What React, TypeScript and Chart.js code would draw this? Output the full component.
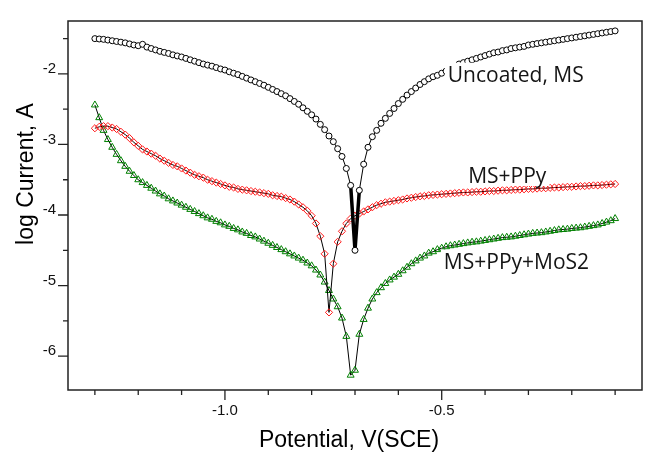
import { useEffect, useRef } from 'react';
import { Chart, registerables } from 'chart.js';

Chart.register(...registerables);

// Potential, V(SCE)
const potential = [
  -1.30, -1.29, -1.28, -1.27, -1.26, -1.25, -1.24, -1.23, -1.22, -1.21,
  -1.20, -1.19, -1.18, -1.17, -1.16, -1.15, -1.14, -1.13, -1.12, -1.11,
  -1.10, -1.09, -1.08, -1.07, -1.06, -1.05, -1.04, -1.03, -1.02, -1.01,
  -1.00, -0.99, -0.98, -0.97, -0.96, -0.95, -0.94, -0.93, -0.92, -0.91,
  -0.90, -0.89, -0.88, -0.87, -0.86, -0.85, -0.84, -0.83, -0.82, -0.81,
  -0.80, -0.79, -0.78, -0.77, -0.76, -0.75, -0.74, -0.73, -0.72, -0.71,
  -0.70, -0.69, -0.68, -0.67, -0.66, -0.65, -0.64, -0.63, -0.62, -0.61,
  -0.60, -0.59, -0.58, -0.57, -0.56, -0.55, -0.54, -0.53, -0.52, -0.51,
  -0.50, -0.49, -0.48, -0.47, -0.46, -0.45, -0.44, -0.43, -0.42, -0.41,
  -0.40, -0.39, -0.38, -0.37, -0.36, -0.35, -0.34, -0.33, -0.32, -0.31,
  -0.30, -0.29, -0.28, -0.27, -0.26, -0.25, -0.24, -0.23, -0.22, -0.21,
  -0.20, -0.19, -0.18, -0.17, -0.16, -0.15, -0.14, -0.13, -0.12, -0.11,
  -0.10,
];

// log Current, A
const uncoatedMS = [
  -1.50, -1.505, -1.51, -1.52, -1.53, -1.54, -1.55, -1.56, -1.575, -1.59,
  -1.60, -1.58, -1.62, -1.64, -1.66, -1.68, -1.695, -1.71, -1.73, -1.745,
  -1.76, -1.78, -1.80, -1.82, -1.84, -1.86, -1.875, -1.89, -1.91, -1.93,
  -1.945, -1.97, -1.99, -2.01, -2.035, -2.06, -2.085, -2.11, -2.135, -2.16,
  -2.19, -2.22, -2.25, -2.28, -2.31, -2.35, -2.39, -2.43, -2.48, -2.53,
  -2.58, -2.64, -2.715, -2.79, -2.88, -2.96, -3.06, -3.17, -3.34, -3.58,
  -4.50, -3.65, -3.28, -3.04, -2.89, -2.80, -2.70, -2.63, -2.56, -2.49,
  -2.42, -2.36, -2.30, -2.25, -2.20, -2.15, -2.11, -2.07, -2.04, -2.02,
  -1.99, -1.96, -1.93, -1.90, -1.86, -1.84, -1.82, -1.80, -1.78, -1.76,
  -1.74, -1.72, -1.70, -1.69, -1.67, -1.66, -1.64, -1.63, -1.62, -1.61,
  -1.59, -1.58, -1.57, -1.56, -1.55, -1.54, -1.53, -1.52, -1.51, -1.50,
  -1.49, -1.48, -1.47, -1.46, -1.45, -1.44, -1.43, -1.42, -1.41, -1.40,
  -1.39,
];

const msPPy = [
  -2.77, -2.75, -2.74, -2.74, -2.76, -2.78, -2.82, -2.86, -2.91, -2.97,
  -3.02, -3.07, -3.10, -3.13, -3.16, -3.20, -3.23, -3.26, -3.29, -3.31,
  -3.34, -3.37, -3.40, -3.43, -3.45, -3.47, -3.50, -3.52, -3.54, -3.56,
  -3.58, -3.60, -3.61, -3.63, -3.64, -3.65, -3.66, -3.67, -3.68, -3.69,
  -3.70, -3.72, -3.73, -3.74, -3.76, -3.78, -3.81, -3.85, -3.89, -3.94,
  -4.01, -4.12, -4.30, -4.55, -5.38, -4.69, -4.38, -4.23, -4.12, -4.05,
  -4.01, -3.98, -3.95, -3.92, -3.89, -3.86, -3.84, -3.82, -3.81, -3.80,
  -3.79, -3.78, -3.765, -3.755, -3.745, -3.735, -3.73, -3.72, -3.715, -3.71,
  -3.705, -3.70, -3.695, -3.69, -3.685, -3.68, -3.68, -3.675, -3.67, -3.67,
  -3.665, -3.66, -3.66, -3.655, -3.65, -3.65, -3.645, -3.64, -3.64, -3.635,
  -3.63, -3.63, -3.625, -3.62, -3.62, -3.615, -3.61, -3.61, -3.605, -3.60,
  -3.60, -3.595, -3.59, -3.59, -3.585, -3.58, -3.58, -3.575, -3.57, -3.565,
  -3.56,
];

const msPPyMoS2 = [
  -2.44, -2.62, -2.80, -2.93, -3.04, -3.14, -3.23, -3.31, -3.38, -3.44,
  -3.50, -3.54, -3.58, -3.62, -3.66, -3.70, -3.73, -3.77, -3.80, -3.83,
  -3.86, -3.89, -3.92, -3.95, -3.98, -4.01, -4.04, -4.06, -4.09, -4.11,
  -4.14, -4.16, -4.19, -4.21, -4.24, -4.26, -4.29, -4.31, -4.34, -4.37,
  -4.40, -4.43, -4.46, -4.49, -4.52, -4.55, -4.58, -4.61, -4.64, -4.68,
  -4.72, -4.78, -4.85, -4.95, -5.07, -5.19, -5.30, -5.46, -5.72, -6.27,
  -6.20, -5.69, -5.48, -5.32, -5.19, -5.10, -5.03, -4.97, -4.92, -4.88,
  -4.84, -4.79, -4.74, -4.69, -4.65, -4.61, -4.58, -4.54, -4.52, -4.49,
  -4.47, -4.45, -4.435, -4.425, -4.415, -4.405, -4.395, -4.385, -4.38, -4.37,
  -4.36, -4.35, -4.34, -4.33, -4.32, -4.315, -4.31, -4.30, -4.29, -4.28,
  -4.27, -4.26, -4.255, -4.25, -4.24, -4.23, -4.22, -4.21, -4.205, -4.20,
  -4.19, -4.185, -4.18, -4.17, -4.16, -4.15, -4.14, -4.12, -4.10, -4.08,
  -4.05,
];

const seriesNames = ['Uncoated, MS', 'MS+PPy', 'MS+PPy+MoS2'];

const xTicks = [-1.3, -1.2, -1.1, -1.0, -0.9, -0.8, -0.7, -0.6, -0.5, -0.4, -0.3, -0.2, -0.1];
const xLabeledTicks = [-1.0, -0.5];
const yTicks = [-6, -5, -4, -3, -2];
const yMinorTicks = [-5.5, -4.5, -3.5, -2.5, -1.5];
const xAxisTitle = 'Potential, V(SCE)';
const yAxisTitle = 'log Current, A';

// anchors (potential, log current) for the curve labels
const labelAnchors: [number, number][] = [
  [-0.486, -2.11],
  [-0.439, -3.546],
  [-0.495, -4.759],
];

const AXIS_FONT = '"Liberation Sans", Arial, sans-serif';
const NOTE_FONT = '"Open Sans", "Noto Sans", sans-serif';

const near = (a: number, b: number) => Math.abs(a - b) < 1e-6;

export default function App() {
  const ref = useRef<HTMLCanvasElement>(null);

  useEffect(() => {
    const canvas = ref.current;
    if (!canvas) return;
    const mk = (ys: number[]) => potential.map((v, i) => ({ x: v, y: ys[i] }));
    let minIdx = 0;
    uncoatedMS.forEach((v, i) => { if (v < uncoatedMS[minIdx]) minIdx = i; });

    const decor = {
      id: 'decor',
      afterDatasetsDraw(chart: any) {
        const { ctx, chartArea: a, scales } = chart;
        const xs = scales.x;
        const ys = scales.y;
        ctx.save();
        // curve labels with white boxes
        ctx.font = `21px ${NOTE_FONT}`;
        ctx.textBaseline = 'alphabetic';
        ctx.textAlign = 'left';
        seriesNames.forEach((name, i) => {
          const px = xs.getPixelForValue(labelAnchors[i][0]);
          const py = ys.getPixelForValue(labelAnchors[i][1]);
          const w = ctx.measureText(name).width;
          ctx.fillStyle = '#fff';
          ctx.fillRect(px - 3, py - 19, w + 6, 22);
          ctx.fillStyle = '#151515';
          ctx.fillText(name, px, py);
        });
        // frame
        ctx.strokeStyle = '#222';
        ctx.lineWidth = 1.5;
        ctx.strokeRect(a.left, a.top, a.right - a.left, a.bottom - a.top);
        // tick marks
        ctx.lineWidth = 1.3;
        ctx.beginPath();
        xTicks.forEach((v) => {
          const px = xs.getPixelForValue(v);
          const major = xLabeledTicks.some((t) => near(t, v));
          ctx.moveTo(px, a.bottom);
          ctx.lineTo(px, a.bottom + (major ? 10 : 5));
        });
        yTicks.forEach((v) => {
          const py = ys.getPixelForValue(v);
          ctx.moveTo(a.left, py);
          ctx.lineTo(a.left - 10, py);
        });
        yMinorTicks.forEach((v) => {
          const py = ys.getPixelForValue(v);
          ctx.moveTo(a.left, py);
          ctx.lineTo(a.left - 5, py);
        });
        ctx.stroke();
        // axis titles
        ctx.fillStyle = '#000';
        ctx.font = `23px ${AXIS_FONT}`;
        ctx.textAlign = 'center';
        ctx.textBaseline = 'alphabetic';
        ctx.fillText(xAxisTitle, 349, 446.5);
        ctx.translate(27, 174);
        ctx.rotate(-Math.PI / 2);
        ctx.textBaseline = 'middle';
        ctx.fillText(yAxisTitle, 0, 0);
        ctx.restore();
      },
    };

    const chart = new Chart(canvas, {
      type: 'line',
      data: {
        datasets: [
          {
            label: seriesNames[0],
            data: mk(uncoatedMS),
            borderColor: '#000',
            borderWidth: 1,
            pointStyle: 'circle',
            pointRadius: 3,
            pointBorderWidth: 1,
            pointBorderColor: '#000',
            pointBackgroundColor: '#fff',
            tension: 0,
            order: 0,
            segment: {
              borderWidth: (c: any) => (c.p0DataIndex === minIdx || c.p1DataIndex === minIdx ? 3.5 : 1),
            },
          },
          {
            label: seriesNames[1],
            data: mk(msPPy),
            borderColor: '#000',
            borderWidth: 1,
            pointStyle: 'rectRot',
            pointRadius: 3.6,
            pointBorderWidth: 1,
            pointBorderColor: '#ff1a1a',
            pointBackgroundColor: 'rgba(255,255,255,0)',
            tension: 0,
            order: 1,
          },
          {
            label: seriesNames[2],
            data: mk(msPPyMoS2),
            borderColor: '#000',
            borderWidth: 1,
            pointStyle: 'triangle',
            pointRadius: 4,
            pointBorderWidth: 1,
            pointBorderColor: '#008000',
            pointBackgroundColor: 'rgba(255,255,255,0)',
            tension: 0,
            order: 2,
          },
        ],
      },
      options: {
        animation: false,
        responsive: false,
        devicePixelRatio: 1,
        events: [],
        layout: { padding: { top: 8, right: 7, left: 0, bottom: 0 } },
        plugins: { legend: { display: false }, tooltip: { enabled: false } },
        scales: {
          x: {
            type: 'linear',
            min: -1.362,
            max: -0.038,
            grid: { display: false, drawTicks: false },
            border: { display: false },
            afterBuildTicks: (s: any) => { s.ticks = xTicks.map((v) => ({ value: v })); },
            afterFit: (s: any) => { s.height = 64; },
            ticks: {
              autoSkip: false,
              maxRotation: 0,
              padding: 12,
              color: '#111',
              font: { family: AXIS_FONT, size: 15 },
              callback: (v: any) => (xLabeledTicks.some((t) => near(t, Number(v))) ? Number(v).toFixed(1) : ''),
            },
          },
          y: {
            type: 'linear',
            min: -6.48,
            max: -1.25,
            grid: { display: false, drawTicks: false },
            border: { display: false },
            afterBuildTicks: (s: any) => { s.ticks = yTicks.map((v) => ({ value: v })); },
            afterFit: (s: any) => { s.width = 68; },
            ticks: {
              autoSkip: false,
              padding: 12,
              labelOffset: -5,
              color: '#111',
              font: { family: AXIS_FONT, size: 15 },
              callback: (v: any) => String(v),
            },
          },
        },
      },
      plugins: [decor],
    });
    return () => chart.destroy();
  }, []);

  return (
    <div style={{ position: 'absolute', left: 0, top: 0, width: 649, height: 454, background: '#fff' }}>
      <canvas ref={ref} width={649} height={454} style={{ display: 'block', width: 649, height: 454 }} />
    </div>
  );
}
